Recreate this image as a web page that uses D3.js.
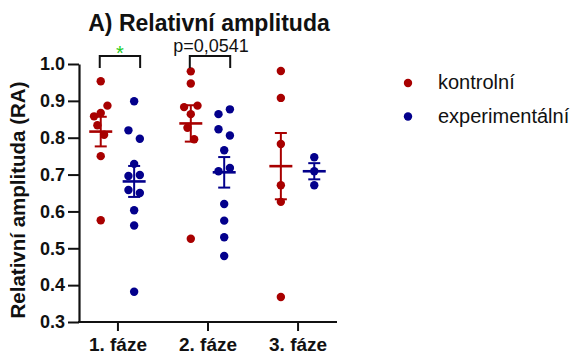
<!DOCTYPE html>
<html>
<head>
<meta charset="utf-8">
<script src="https://cdn.jsdelivr.net/npm/d3@7"></script>
<style>
  html, body { margin: 0; padding: 0; background: #fff; }
  svg { display: block; font-family: "Liberation Sans", Arial, sans-serif; }
</style>
</head>
<body>
<svg id="chart" width="573" height="356"></svg>
<script>
// Phases on the x axis and the two groups of subjects
const phases = ["1. fáze", "2. fáze", "3. fáze"];
const seriesNames = ["kontrolní", "experimentální"];

// Relative amplitude per subject, one list per phase
const kontrolni = [
  [0.953, 0.858, 0.867, 0.887, 0.834, 0.808, 0.750, 0.576],
  [0.980, 0.947, 0.883, 0.864, 0.887, 0.827, 0.796, 0.526],
  [0.981, 0.908, 0.783, 0.671, 0.626, 0.368]
];
const experimentalni = [
  [0.899, 0.820, 0.797, 0.729, 0.696, 0.699, 0.658, 0.650, 0.603, 0.562, 0.382],
  [0.864, 0.877, 0.823, 0.806, 0.766, 0.709, 0.718, 0.620, 0.575, 0.530, 0.479],
  [0.747, 0.709, 0.671]
];

const yTicks = [0.3, 0.4, 0.5, 0.6, 0.7, 0.8, 0.9, 1.0];

// Pairwise comparisons marked above the groups
const comparisonPhases = ["1. fáze", "2. fáze"];
const comparisonLabels = ["*", "p=0,0541"];

const colors = { "kontrolní": "#a80000", "experimentální": "#03008c" };
const sigColor = "#22cc22";

const svg = d3.select("#chart");

const y = d3.scaleLinear().domain([0.3, 1.0]).range([322, 64]);
const x = d3.scalePoint().domain(phases).range([78, 337]).padding(0.438);
const xSeries = d3.scalePoint().domain(seriesNames).range([-16.7, 16.7]);

const axisX0 = 79;
const axisX1 = 337;

// ---- y axis ----
const yAxis = d3.axisLeft(y)
  .tickValues(yTicks)
  .tickFormat(d3.format(".1f"))
  .tickSize(11)
  .tickPadding(3)
  .tickSizeOuter(0);

const gy = svg.append("g")
  .attr("transform", `translate(${axisX0},0)`)
  .call(yAxis);
gy.select(".domain").attr("stroke", "#111").attr("stroke-width", 2.2);
gy.selectAll(".tick line").attr("stroke", "#111").attr("stroke-width", 2);
gy.selectAll(".tick text")
  .attr("fill", "#111")
  .style("font-size", "18px")
  .style("font-weight", "bold")
  .style("font-family", "'Liberation Sans', Arial, sans-serif");

// ---- x axis ----
const xAxis = d3.axisBottom(x).tickSize(9).tickPadding(7).tickSizeOuter(0);
const gx = svg.append("g")
  .attr("transform", `translate(0,${y(0.3)})`)
  .call(xAxis);
gx.select(".domain").remove();
gx.append("line")
  .attr("x1", axisX0 - 1).attr("x2", axisX1)
  .attr("y1", 0).attr("y2", 0)
  .attr("stroke", "#111").attr("stroke-width", 2.2);
gx.selectAll(".tick line").attr("stroke", "#111").attr("stroke-width", 2);
gx.selectAll(".tick text")
  .attr("fill", "#111")
  .style("font-size", "19px")
  .style("font-weight", "bold")
  .style("font-family", "'Liberation Sans', Arial, sans-serif");

// ---- titles ----
svg.append("text")
  .attr("x", 209).attr("y", 31)
  .attr("text-anchor", "middle")
  .style("font-size", "23px").style("font-weight", "bold")
  .attr("fill", "#111")
  .text("A) Relativní amplituda");

svg.append("text")
  .attr("transform", `translate(25,${(y(0.3) + y(1.0)) / 2 + 7}) rotate(-90)`)
  .attr("text-anchor", "middle")
  .style("font-size", "20.5px").style("font-weight", "bold")
  .attr("fill", "#111")
  .text("Relativní amplituda (RA)");

// ---- scatter layout: points stacked into rows, spread horizontally ----
const R = 4.2;
const ROW = 11.8;
function layout(values, cx) {
  const pts = values.map((v, i) => ({ v, i, py: y(v), dx: 0 }));
  const order = pts.slice().sort((a, b) => b.py - a.py);
  const rows = [];
  let k = 0;
  while (k < order.length) {
    const anchor = order[k];
    const row = [anchor];
    k++;
    while (k < order.length && anchor.py - order[k].py < ROW) { row.push(order[k]); k++; }
    rows.push(row);
  }
  rows.forEach(row => {
    const n = row.length;
    if (n === 1) return;
    row.sort((a, b) => a.i - b.i);
    let sp = 6.7;
    if (n === 2) {
      const dy = Math.abs(row[0].py - row[1].py);
      sp = dy < 9 ? 11.4 : 6.7;
    }
    row.forEach((p, j) => { p.dx = (j - (n - 1) / 2) * sp; });
  });
  return pts.map(p => ({ v: p.v, px: cx + p.dx, py: p.py }));
}

function meanSem(values) {
  const m = d3.mean(values);
  const sem = d3.deviation(values) / Math.sqrt(values.length);
  return { m, sem };
}

const groups = [];
phases.forEach((ph, pi) => {
  [[seriesNames[0], kontrolni[pi]], [seriesNames[1], experimentalni[pi]]].forEach(([s, vals]) => {
    groups.push({ phase: ph, series: s, values: vals, cx: x(ph) + xSeries(s) });
  });
});

const plot = svg.append("g");
groups.forEach(g => {
  const pts = layout(g.values, g.cx);
  plot.selectAll(null)
    .data(pts)
    .enter().append("circle")
    .attr("cx", d => d.px)
    .attr("cy", d => d.py)
    .attr("r", R)
    .attr("fill", colors[g.series]);

  const { m, sem } = meanSem(g.values);
  const c = colors[g.series];
  const eb = plot.append("g").attr("stroke", c);
  eb.append("line")
    .attr("x1", g.cx).attr("x2", g.cx)
    .attr("y1", y(m + sem)).attr("y2", y(m - sem))
    .attr("stroke-width", 2);
  [m + sem, m - sem].forEach(v => {
    eb.append("line")
      .attr("x1", g.cx - 6).attr("x2", g.cx + 6)
      .attr("y1", y(v)).attr("y2", y(v))
      .attr("stroke-width", 2);
  });
  eb.append("line")
    .attr("x1", g.cx - 11.5).attr("x2", g.cx + 11.5)
    .attr("y1", y(m)).attr("y2", y(m))
    .attr("stroke-width", 2.6);
});

// ---- comparison brackets ----
comparisonPhases.forEach((ph, i) => {
  const xl = x(ph) + xSeries(seriesNames[0]) - 1;
  const xr = x(ph) + xSeries(seriesNames[1]) + 6;
  const top = 56;
  svg.append("path")
    .attr("d", `M${xl},68 V${top} H${xr} V68`)
    .attr("fill", "none")
    .attr("stroke", "#111")
    .attr("stroke-width", 2);
  const lbl = comparisonLabels[i];
  const isStar = lbl === "*";
  svg.append("text")
    .attr("x", (xl + xr) / 2 + (isStar ? 0 : 1))
    .attr("y", isStar ? 60 : 52)
    .attr("text-anchor", "middle")
    .style("font-size", isStar ? "20px" : "18px")
    .attr("fill", isStar ? sigColor : "#111")
    .text(lbl);
});

// ---- legend ----
const legend = svg.append("g").attr("transform", "translate(408,83)");
seriesNames.forEach((s, i) => {
  const row = legend.append("g").attr("transform", `translate(0,${i * 33.5})`);
  row.append("circle").attr("r", R).attr("fill", colors[s]);
  row.append("text")
    .attr("x", 30).attr("y", 6)
    .style("font-size", "20px")
    .attr("fill", "#111")
    .text(s);
});
</script>
</body>
</html>
